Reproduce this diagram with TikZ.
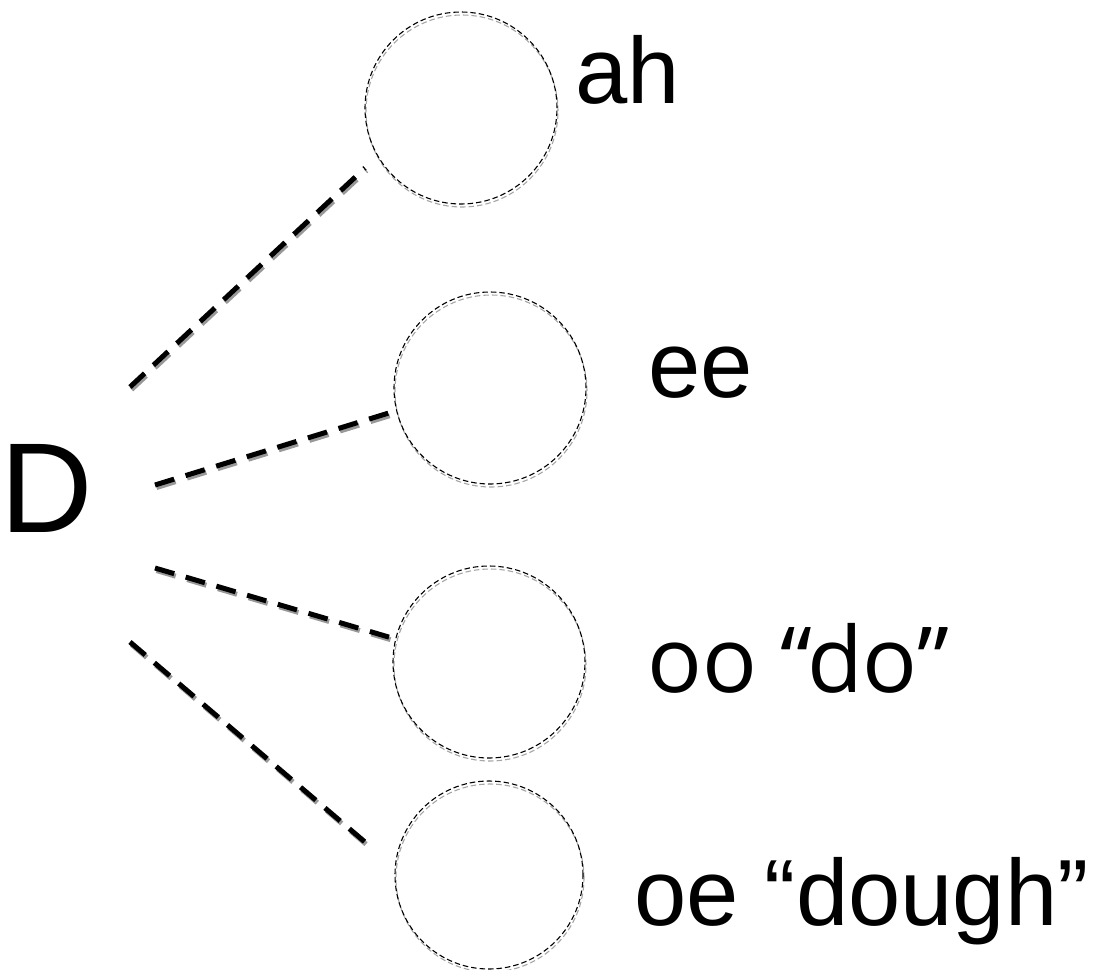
\documentclass[tikz,border=0pt]{standalone}
\usepackage{fontspec}
\setmainfont{Liberation Sans}
\newfontfamily\opensans{Open Sans}
\begin{document}
\begin{tikzpicture}[x=1pt,y=-1pt,
  lbl/.style={inner sep=0pt,anchor=base west,font=\fontsize{94}{100}\selectfont},
  ring/.style={circle,draw=black,line width=1.1pt,dash pattern=on 5.5pt off 3pt,minimum size=192pt,inner sep=0pt},
  ringshadow/.style={circle,draw=black!35,line width=1.1pt,dash pattern=on 5.5pt off 3pt,minimum size=192pt,inner sep=0pt},
  conn/.style={draw=black,line width=5pt,dash pattern=on 20pt off 12pt},
  connshadow/.style={draw=black!40,line width=5pt,dash pattern=on 20pt off 12pt}]
\useasboundingbox (0,0) rectangle (1104,970);
% circle shadows
\node[ringshadow] at (462,111) {};
\node[ringshadow] at (491,391) {};
\node[ringshadow] at (490,665) {};
\node[ringshadow,minimum size=188pt] at (490,878) {};
% circles
\node[ring] (c1) at (461,108) {};
\node[ring] (c2) at (490,388) {};
\node[ring] (c3) at (489,662) {};
\node[ring,minimum size=188pt] (c4) at (489,875) {};
% labels
\node[lbl,font=\fontsize{128}{130}\selectfont] (D) at (0,532) {D};
\node[lbl] (l1) at (575,103) {ah};
\node[lbl] (l2) at (648,397) {ee};
\node[lbl,font=\opensans\fontsize{91}{100}\selectfont] (l3) at (647,692) {oo “do”};
\node[lbl] (l4) at (634,925) {oe “dough”};
% connector ends
\coordinate (a1) at (130,387); \coordinate (b1) at (365,168);
\coordinate (a2) at (155,485); \coordinate (b2) at (392,412);
\coordinate (a3) at (155,568); \coordinate (b3) at (392,638);
\coordinate (a4) at (130,642); \coordinate (b4) at (372,848);
\foreach \i in {1,2,3,4}{
  \draw[connshadow] ([shift={(1.5,2.5)}]a\i) -- ([shift={(1.5,2.5)}]b\i);
  \draw[conn] (a\i) -- (b\i);
}
\end{tikzpicture}
\end{document}
